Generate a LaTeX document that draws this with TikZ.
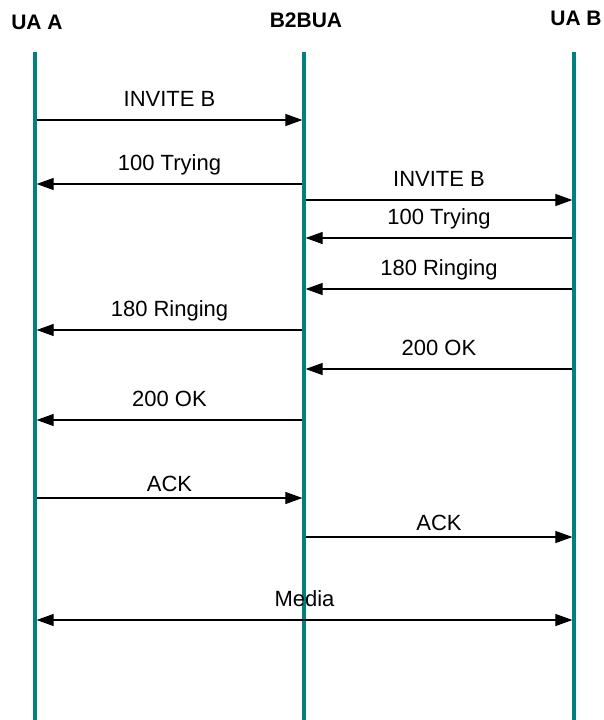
\documentclass[tikz,border=0pt]{standalone}
\usepackage{fontspec}
\setmainfont{Liberation Sans}
\usetikzlibrary{arrows.meta}
\definecolor{lifeteal}{RGB}{0,128,128}

\begin{document}
\begin{tikzpicture}[x=1pt,y=-1pt,
  lifeline/.style={draw=lifeteal,line width=3.2pt},
  msg/.style={draw=black,line width=1.1pt,shorten >=1.6pt,shorten <=1.6pt,
    -{Triangle[length=17pt,width=12pt]}},
  both/.style={msg,{Triangle[length=17pt,width=12pt]}-{Triangle[length=17pt,width=12pt]}},
  head/.style={anchor=base,font=\bfseries\fontsize{21}{23}\selectfont},
  lbl/.style={anchor=base,font=\fontsize{22}{25}\selectfont}]
\useasboundingbox (0,0) rectangle (604,720);
% headers
\node[head] (uaa) at (37,29) {UA A};
\node[head] (b2bua) at (306,27.3) {B2BUA};
\node[head] (uab) at (576,25.6) {UA B};
% lifelines
\coordinate (atop) at (35,52);  \coordinate (abot) at (35,720);
\coordinate (btop) at (304,52); \coordinate (bbot) at (304,720);
\coordinate (ctop) at (574,52); \coordinate (cbot) at (574,720);
\draw[lifeline] (atop) -- (abot);
\draw[lifeline] (btop) -- (bbot);
\draw[lifeline] (ctop) -- (cbot);
% message rows
\coordinate (a1) at (35,120);  \coordinate (b1) at (304,120);
\coordinate (a2) at (35,184);  \coordinate (b2) at (304,184);
\coordinate (b3) at (304,200); \coordinate (c3) at (574,200);
\coordinate (b4) at (304,238); \coordinate (c4) at (574,238);
\coordinate (b5) at (304,289); \coordinate (c5) at (574,289);
\coordinate (a6) at (35,330);  \coordinate (b6) at (304,330);
\coordinate (b7) at (304,369); \coordinate (c7) at (574,369);
\coordinate (a8) at (35,420);  \coordinate (b8) at (304,420);
\coordinate (a9) at (35,498);  \coordinate (b9) at (304,498);
\coordinate (b10) at (304,537); \coordinate (c10) at (574,537);
\coordinate (a11) at (35,620); \coordinate (c11) at (574,620);
% messages
\draw[msg] (a1) -- (b1) node[lbl,midway,yshift=13.5pt] (l1) {INVITE B};
\draw[msg] (b2) -- (a2) node[lbl,midway,yshift=13.7pt] (l2) {100 Trying};
\draw[msg] (b3) -- (c3) node[lbl,midway,yshift=13.5pt] (l3) {INVITE B};
\draw[msg] (c4) -- (b4) node[lbl,midway,yshift=13.7pt] (l4) {100 Trying};
\draw[msg] (c5) -- (b5) node[lbl,midway,yshift=13.7pt] (l5) {180 Ringing};
\draw[msg] (b6) -- (a6) node[lbl,midway,yshift=14pt] (l6) {180 Ringing};
\draw[msg] (c7) -- (b7) node[lbl,midway,yshift=14pt] (l7) {200 OK};
\draw[msg] (b8) -- (a8) node[lbl,midway,yshift=14pt] (l8) {200 OK};
\draw[msg] (a9) -- (b9) node[lbl,midway,yshift=6.6pt] (l9) {ACK};
\draw[msg] (b10) -- (c10) node[lbl,midway,yshift=6.7pt] (l10) {ACK};
\draw[both] (a11) -- (c11) node[lbl,midway,yshift=13.7pt] (l11) {Media};
\end{tikzpicture}
\end{document}
